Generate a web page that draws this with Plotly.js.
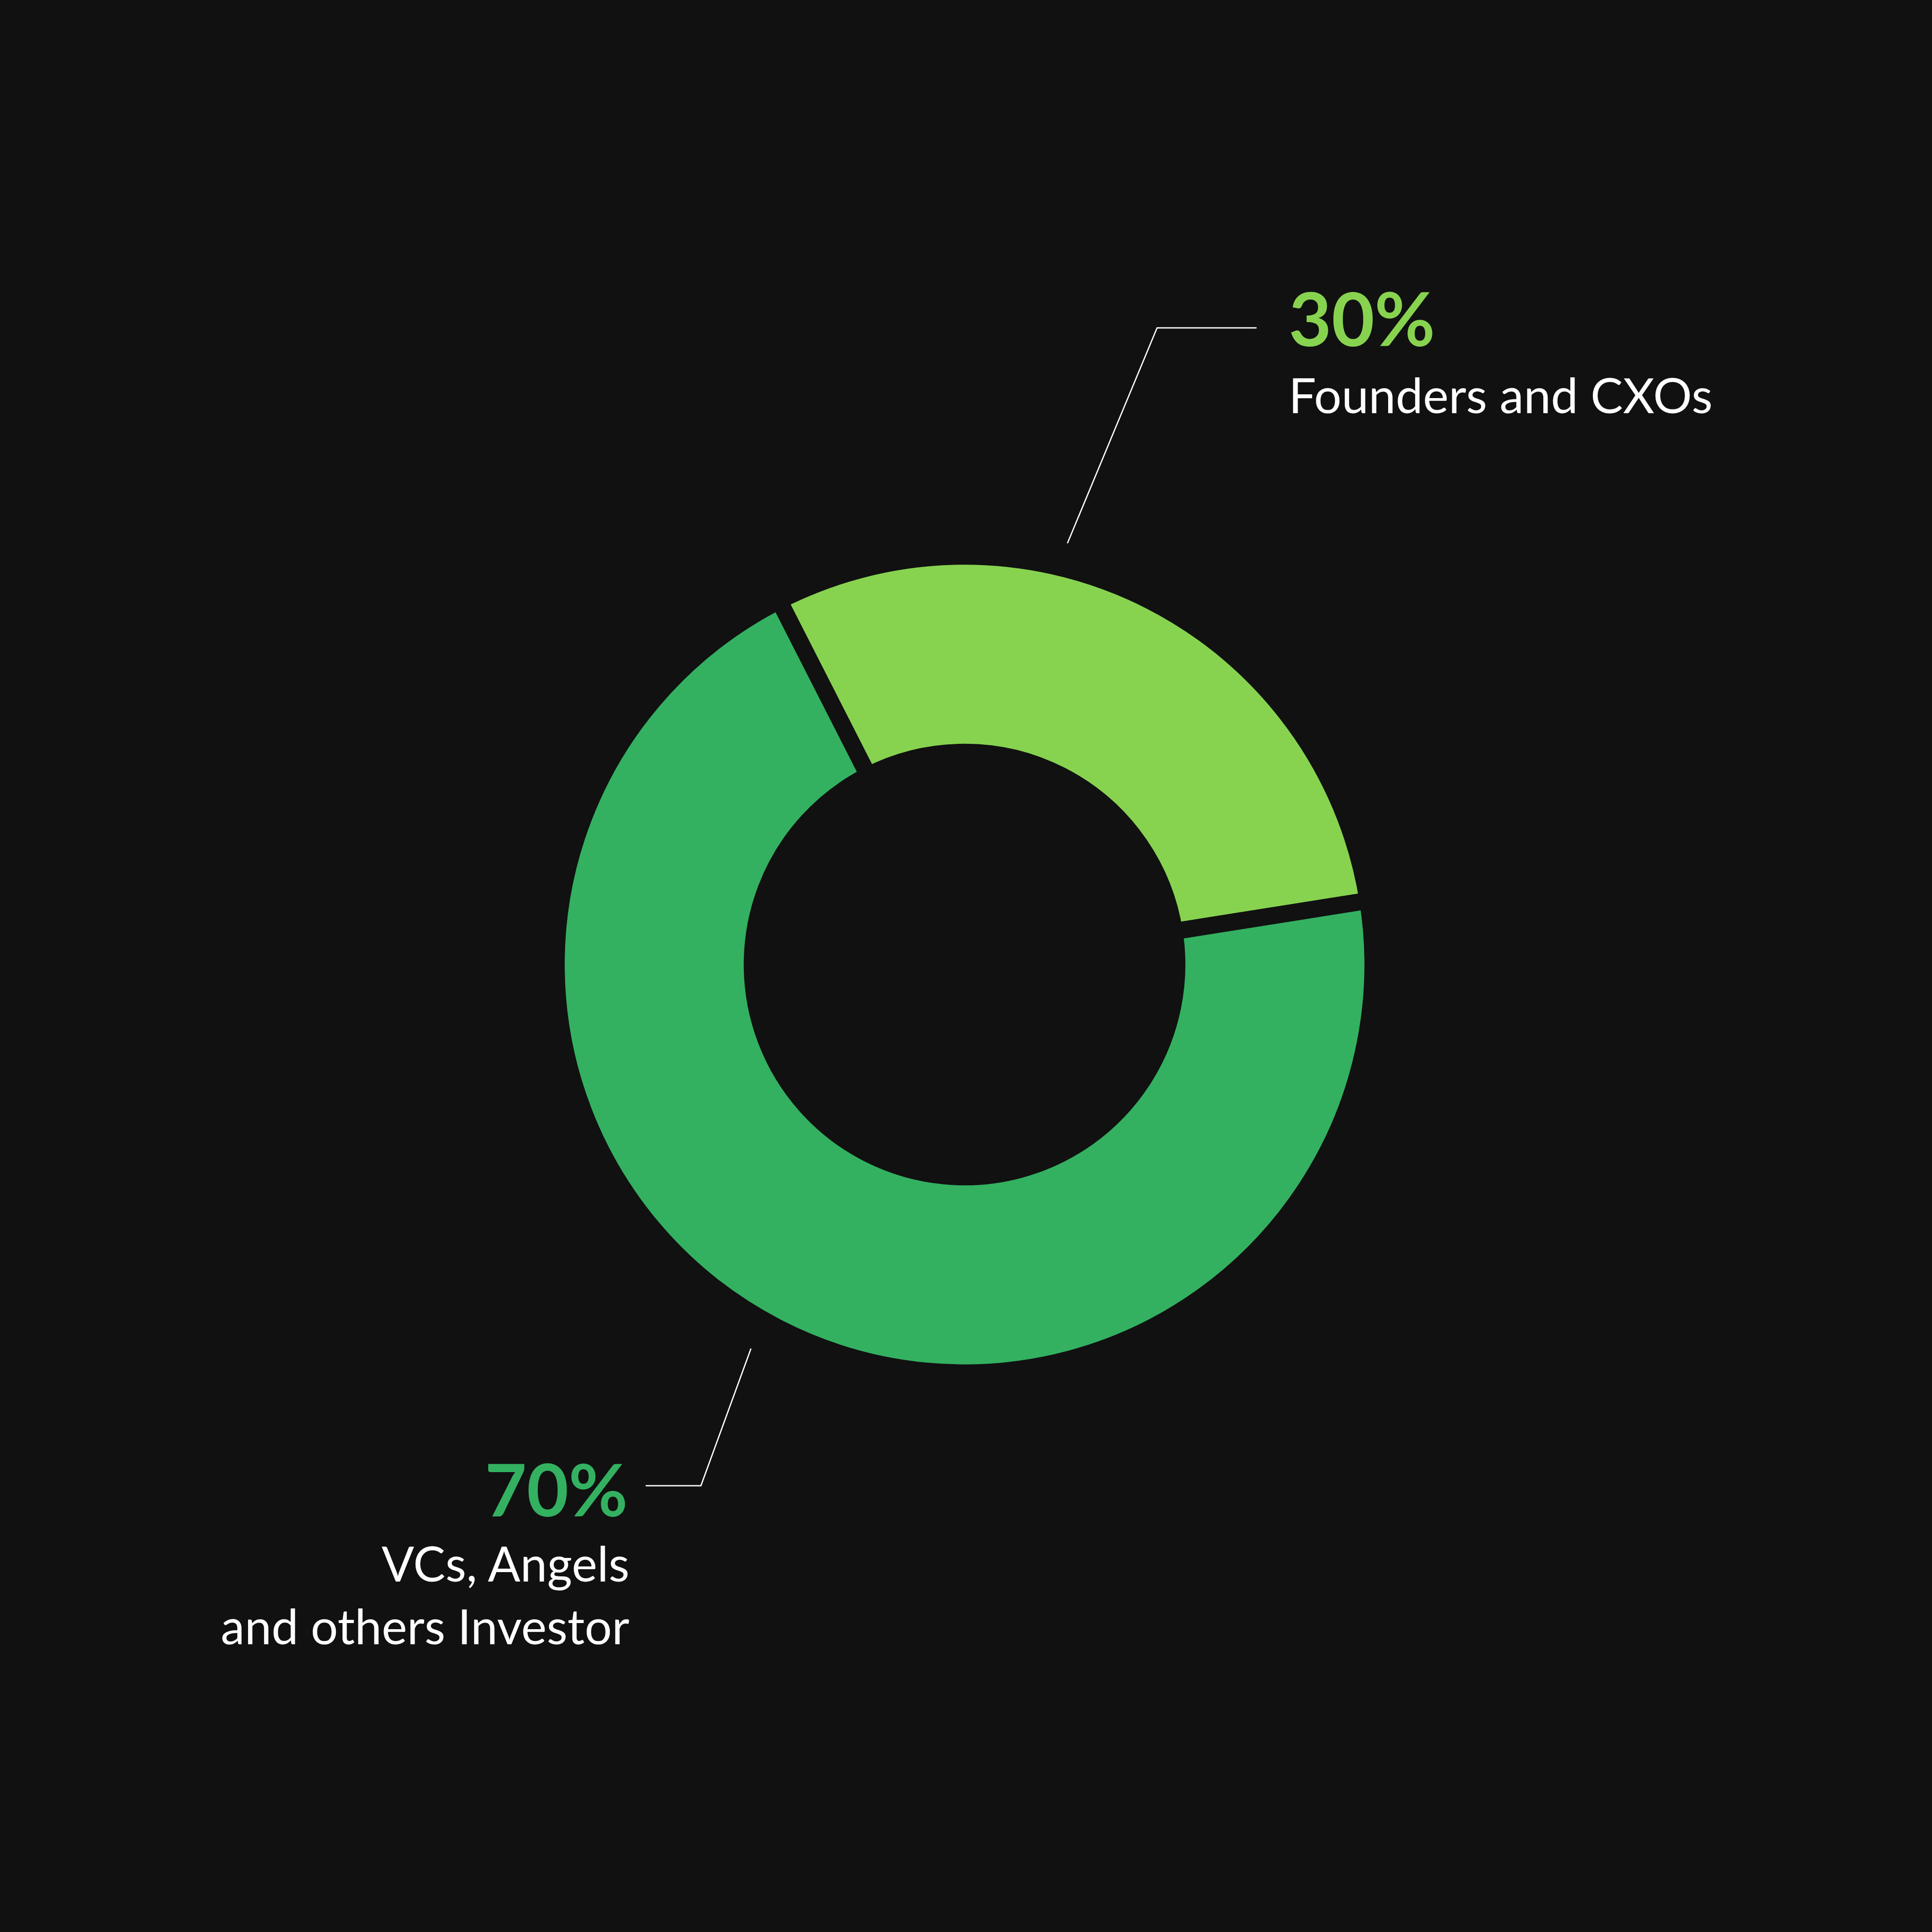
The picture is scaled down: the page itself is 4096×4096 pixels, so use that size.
<!DOCTYPE html>
<html>
<head>
<meta charset="utf-8">
<script src="https://cdn.plot.ly/plotly-3.0.1.min.js"></script>
<style>
  html, body { margin: 0; padding: 0; background: #111111; }
  #chart { width: 4096px; height: 4096px; }
</style>
</head>
<body>
<div id="chart"></div>
<script>
// ---- data ----
const categories = ["Founders and CXOs", "VCs, Angels and others Investor"];
const shares = [30, 70];
const shareLabels = ["30%", "70%"];
const sliceColors = ["#87D350", "#33B161"];

const BG = "#111111";
const FONT = "Lato, 'Open Sans', sans-serif";

const trace = {
  type: "pie",
  labels: categories,
  values: shares,
  sort: false,
  direction: "clockwise",
  rotation: -27,
  hole: 0.52,
  textinfo: "none",
  hoverinfo: "skip",
  showlegend: false,
  marker: { colors: sliceColors, line: { color: BG, width: 36 } },
  domain: { x: [0.2879, 0.7106], y: [0.2894, 0.7121] }
};

const layout = {
  width: 4096,
  height: 4096,
  margin: { l: 0, r: 0, t: 0, b: 0 },
  paper_bgcolor: BG,
  plot_bgcolor: BG,
  showlegend: false,
  shapes: [
    { type: "path", xref: "paper", yref: "paper",
      path: "M 0.5525,0.7188 L 0.5989,0.8303 L 0.6504,0.8303",
      line: { color: "#FFFFFF", width: 2.7 } },
    { type: "path", xref: "paper", yref: "paper",
      path: "M 0.3887,0.3020 L 0.3628,0.2310 L 0.3342,0.2310",
      line: { color: "#FFFFFF", width: 2.7 } }
  ],
  annotations: [
    { xref: "paper", yref: "paper", x: 0.6665, y: 0.8357, xanchor: "left", yanchor: "middle",
      text: shareLabels[0], showarrow: false,
      font: { family: FONT, size: 157, color: sliceColors[0], weight: 700 } },
    { xref: "paper", yref: "paper", x: 0.6665, y: 0.796, xanchor: "left", yanchor: "middle",
      text: categories[0], showarrow: false,
      font: { family: FONT, size: 103, color: "#FFFFFF" } },
    { xref: "paper", yref: "paper", x: 0.3255, y: 0.2295, xanchor: "right", yanchor: "middle",
      text: shareLabels[1], showarrow: false,
      font: { family: FONT, size: 153, color: sliceColors[1], weight: 700 } },
    { xref: "paper", yref: "paper", x: 0.3262, y: 0.1748, xanchor: "right", yanchor: "middle",
      text: "VCs, Angels<br>and others Investor", showarrow: false, align: "right",
      font: { family: FONT, size: 102, color: "#FFFFFF" } }
  ]
};

Plotly.newPlot("chart", [trace], layout, { staticPlot: true, displayModeBar: false });
</script>
</body>
</html>
